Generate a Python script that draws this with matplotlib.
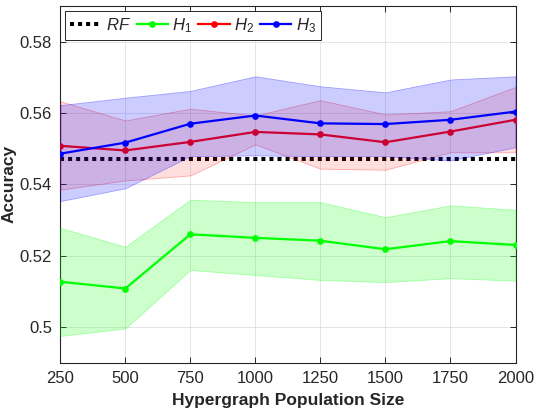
import matplotlib
matplotlib.use("Agg")
import matplotlib.pyplot as plt
from matplotlib.ticker import FuncFormatter

plt.rcParams['font.family'] = ['Liberation Sans', 'DejaVu Sans']
plt.rcParams['mathtext.fontset'] = 'custom'
plt.rcParams['mathtext.it'] = 'Liberation Sans:italic'
plt.rcParams['mathtext.rm'] = 'Liberation Sans'

pop_size = [250, 500, 750, 1000, 1250, 1500, 1750, 2000]
rf_acc = 0.547

h1_mean = [0.5127, 0.5108, 0.5260, 0.5250, 0.5242, 0.5218, 0.5241, 0.5230]
h1_upper = [0.5278, 0.5225, 0.5357, 0.5350, 0.5350, 0.5308, 0.5341, 0.5329]
h1_lower = [0.4975, 0.4996, 0.5160, 0.5146, 0.5132, 0.5126, 0.5137, 0.5130]

h2_mean = [0.5508, 0.5495, 0.5519, 0.5547, 0.5540, 0.5518, 0.5548, 0.5581]
h2_upper = [0.5633, 0.5579, 0.5612, 0.5593, 0.5636, 0.5596, 0.5605, 0.5673]
h2_lower = [0.5385, 0.5411, 0.5425, 0.5512, 0.5444, 0.5441, 0.5490, 0.5490]

h3_mean = [0.5486, 0.5517, 0.5570, 0.5593, 0.5571, 0.5569, 0.5581, 0.5604]
h3_upper = [0.5622, 0.5643, 0.5662, 0.5703, 0.5675, 0.5658, 0.5694, 0.5703]
h3_lower = [0.5353, 0.5389, 0.5479, 0.5481, 0.5479, 0.5479, 0.5467, 0.5504]

xticks = [250, 500, 750, 1000, 1250, 1500, 1750, 2000]
yticks = [0.50, 0.52, 0.54, 0.56, 0.58]

fig = plt.figure(figsize=(5.36, 4.12), dpi=100)
ax = fig.add_axes([60.3/536, 1-362.7/412, (515.5-60.3)/536, (362.7-6)/412])

txt = '#262626'
ax.grid(True, color='#e0e0e0', linewidth=0.6, zorder=0)
ax.set_axisbelow(True)

ax.plot([pop_size[0], pop_size[-1]], [rf_acc, rf_acc], color='black',
        linestyle=(0, (1, 1)), linewidth=2.9, label=r'$\mathit{RF}$', zorder=2,
        dash_capstyle='butt')

series = [
    (h1_mean, h1_lower, h1_upper, (0, 1, 0), 0.2, r'$\mathit{H}_{\mathit{1}}$'),
    (h2_mean, h2_lower, h2_upper, (1, 0, 0), 0.13, r'$\mathit{H}_{\mathit{2}}$'),
    (h3_mean, h3_lower, h3_upper, (0, 0, 1), 0.2, r'$\mathit{H}_{\mathit{3}}$'),
]
z = 3
for mean, lo, hi, c, a, lab in series:
    ax.fill_between(pop_size, lo, hi, facecolor=(*c, a), edgecolor=(*c, 0.3),
                    linewidth=0.6, zorder=z)
    ax.plot(pop_size, mean, color=c, linewidth=1.6, marker='o', markersize=3.8,
            label=lab, zorder=z + 1)
    z += 2

ax.set_xlim(250, 2000)
ax.set_ylim(0.49, 0.59)
ax.set_xticks(xticks)
ax.set_yticks(yticks)
ax.yaxis.set_major_formatter(FuncFormatter(lambda v, p: ('%g' % round(v, 4))))
ax.tick_params(direction='in', length=4, width=0.7, top=True, right=True,
               labelsize=12, colors=txt, labelcolor=txt, pad=6)
for s in ax.spines.values():
    s.set_color(txt)
    s.set_linewidth(0.8)

ax.set_xlabel('Hypergraph Population Size', fontsize=12.5, fontweight='bold',
              color=txt)
ax.xaxis.set_label_coords(0.5, -0.085)
ax.set_ylabel('Accuracy', fontsize=12.5, fontweight='bold', color=txt)
ax.yaxis.set_label_coords(-0.0965, 0.5)

leg = ax.legend(loc='upper left', bbox_to_anchor=(0.0103, 0.986), borderaxespad=0,
                ncol=4, fontsize=12, handlelength=1.9, handletextpad=0.25,
                columnspacing=0.35, borderpad=0.3, fancybox=False, framealpha=1,
                edgecolor=txt)
leg.get_frame().set_linewidth(0.7)
for t in leg.get_texts():
    t.set_color(txt)

fig.savefig('out.png', dpi=100)
